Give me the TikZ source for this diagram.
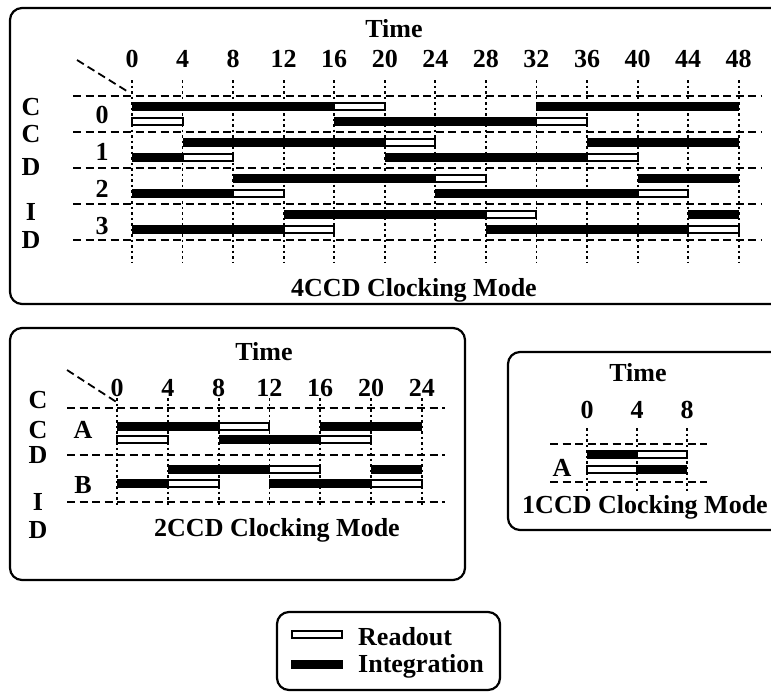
\documentclass[tikz,border=0pt]{standalone}
\usepackage{fontspec}
\setmainfont{Liberation Serif}
\usetikzlibrary{positioning, calc}
\tikzstyle{panel} = [draw=black, line width=2.2pt, rounded corners=12pt]
\tikzstyle{grid} = [line width=1.8pt, dash pattern=on 8pt off 4.5pt]
\tikzstyle{tick} = [line width=1.8pt, dash pattern=on 2.5pt off 3pt]
\tikzstyle{integ} = [fill=black]
\tikzstyle{readout} = [draw=black, line width=2pt, fill=white]
\tikzstyle{txt} = [font=\fontsize{26}{28}\selectfont\bfseries, inner sep=0pt]

\begin{document}
\begin{tikzpicture}[x=1pt, y=-1pt]
    \useasboundingbox (0,0) rectangle (771,694);
    \clip (0,0) rectangle (771,694);

    % 4CCD Clocking Mode
    \draw[panel] (10,8) rectangle (820,304);
    \node (time4) [txt] at (394,29) {Time};
    \node (mode4) [txt] at (414,290) {4CCD Clocking Mode};
    \foreach \y in {96,132,168,204,240}
        \draw[grid] (73,\y) -- (762,\y);
    \draw[grid] (77,60) -- (130,93);
    \foreach \l/\nm/\y in {C/c1/107, C/c2/134, D/d1/167, I/i1/212, D/d2/240}
        \node (side4\nm) [txt] at (31,\y) {\l};
    \foreach \r/\y in {0/115, 1/152, 2/189, 3/226}
        \node (ccd\r) [txt] at (102,\y) {\r};
    \begin{scope}[xshift=132pt, x=12.64pt]
        \foreach \t in {0,4,...,48} {
            \draw[tick] (\t,80) -- (\t,263);
            \node (tick4-\t) [txt] at (\t,59) {\t};
        }
        \foreach \a/\b/\y in {0/16/106.5, 32/48/106.5, 16/32/121.5,
                              4/20/142.5, 36/48/142.5, 0/4/157.5, 20/36/157.5,
                              8/24/178.5, 40/48/178.5, 0/8/193.5, 24/40/193.5,
                              12/28/214.5, 44/48/214.5, 0/12/229.5, 28/44/229.5}
            \fill[integ] (\a,{\y-4.5}) rectangle (\b,{\y+4.5});
        \foreach \a/\b/\y in {16/20/106.5, 0/4/121.5, 32/36/121.5,
                              20/24/142.5, 4/8/157.5, 36/40/157.5,
                              24/28/178.5, 8/12/193.5, 40/44/193.5,
                              28/32/214.5, 12/16/229.5, 44/48/229.5}
            \draw[readout] (\a,{\y-3.5}) rectangle (\b,{\y+3.5});
    \end{scope}

    % 2CCD Clocking Mode
    \draw[panel] (10,328) rectangle (465,580);
    \node (time2) [txt] at (264,352) {Time};
    \node (mode2) [txt] at (277,530) {2CCD Clocking Mode};
    \foreach \y in {408,455,502}
        \draw[grid] (67,\y) -- (445,\y);
    \draw[grid] (67,370) -- (118,403);
    \foreach \l/\nm/\y in {C/c1/400, C/c2/430, D/d1/455, I/i1/502, D/d2/530}
        \node (side2\nm) [txt] at (38,\y) {\l};
    \node (ccdA) [txt] at (83,430) {A};
    \node (ccdB) [txt] at (83,485) {B};
    \begin{scope}[xshift=117pt, x=12.7pt]
        \foreach \t in {0,4,...,24} {
            \draw[tick] (\t,398) -- (\t,507);
            \node (tick2-\t) [txt] at (\t,388) {\t};
        }
        \foreach \a/\b/\y in {0/8/426, 16/24/426, 8/16/439,
                              4/12/469, 20/24/469, 0/4/483, 12/20/483}
            \fill[integ] (\a,{\y-4.5}) rectangle (\b,{\y+4.5});
        \foreach \a/\b/\y in {8/12/426, 0/4/439, 16/20/439,
                              12/16/469, 4/8/483, 20/24/483}
            \draw[readout] (\a,{\y-3.5}) rectangle (\b,{\y+3.5});
    \end{scope}

    % 1CCD Clocking Mode
    \draw[panel] (508,352) rectangle (820,530);
    \node (time1) [txt] at (638,373) {Time};
    \node (mode1) [txt] at (645,507) {1CCD Clocking Mode};
    \foreach \y in {444,482}
        \draw[grid] (550,\y) -- (707,\y);
    \node (ccdA1) [txt] at (562,468) {A};
    \begin{scope}[xshift=587pt, x=12.5pt]
        \foreach \t in {0,4,8} {
            \draw[tick] (\t,428) -- (\t,492);
            \node (tick1-\t) [txt] at (\t,410) {\t};
        }
        \foreach \a/\b/\y in {0/4/454, 4/8/469}
            \fill[integ] (\a,{\y-4.5}) rectangle (\b,{\y+4.5});
        \foreach \a/\b/\y in {4/8/454, 0/4/469}
            \draw[readout] (\a,{\y-3.5}) rectangle (\b,{\y+3.5});
    \end{scope}

    % Legend
    \draw[panel] (277,612) rectangle (500,690);
    \draw[readout] (292,631) rectangle (342,638);
    \fill[integ] (291,660) rectangle (343,669);
    \node (readkey) [txt, anchor=west] at (358,637) {Readout};
    \node (intkey) [txt, anchor=west] at (358,666) {Integration};
\end{tikzpicture}
\end{document}
